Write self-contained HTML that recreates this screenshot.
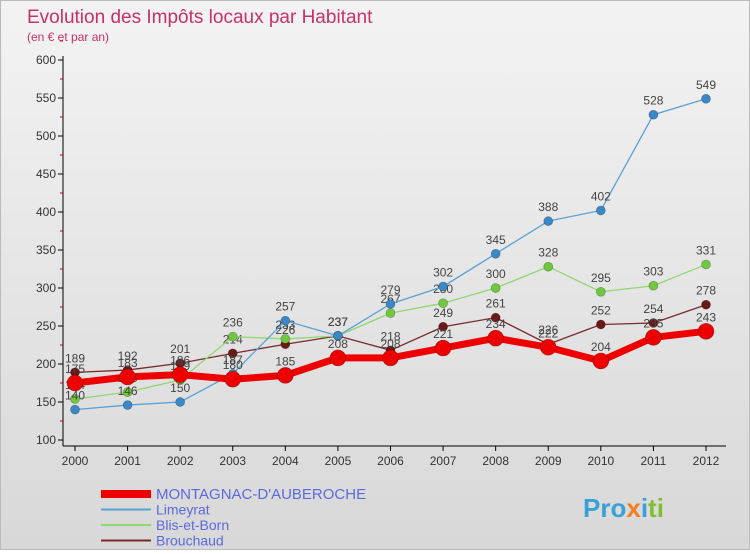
<!DOCTYPE html>
<html><head><meta charset="utf-8"><style>
body{margin:0;width:750px;height:550px;overflow:hidden;font-family:"Liberation Sans",sans-serif}
#wrap{position:relative;width:748px;height:548px;border:1px solid #bbb;background:linear-gradient(#f3f3f3,#d8d8d8)}
</style></head><body>
<div id="wrap">
<svg id="chart" width="748" height="548" xmlns="http://www.w3.org/2000/svg">
<text x="26" y="22" font-size="19" fill="#c8306a">Evolution des Impôts locaux par Habitant</text>
<text x="26" y="40" font-size="12" fill="#c8306a">(en € et par an)</text>
<g id="axes"></g><g id="series"></g>
<g id="legend"></g>
<text x="582" y="516" font-size="26" font-weight="bold"><tspan fill="#3aa0d8">Pro</tspan><tspan fill="#f08020">x</tspan><tspan fill="#3aa0d8">i</tspan><tspan fill="#80c030">ti</tspan></text>
</svg></div>
<script>
const years=[2000,2001,2002,2003,2004,2005,2006,2007,2008,2009,2010,2011,2012];
const yTicks=[100,150,200,250,300,350,400,450,500,550,600];
const montagnac=[175,183,186,180,185,208,208,221,234,222,204,235,243];
const limeyrat=[140,146,150,187,257,237,279,302,345,388,402,528,549];
const blis=[154,163,179,236,233,237,267,280,300,328,295,303,331];
const brouchaud=[189,192,201,214,226,237,218,249,261,226,252,254,278];
const names=["MONTAGNAC-D'AUBEROCHE","Limeyrat","Blis-et-Born","Brouchaud"];
const NS="http://www.w3.org/2000/svg";
const X=i=>74+i*(705-74)/(years.length-1);
const Y=v=>439-(v-100)*(439-59)/500;
function mk(p,t,a){const e=document.createElementNS(NS,t);for(const k in a)e.setAttribute(k,a[k]);p.appendChild(e);return e;}
const ax=document.getElementById('axes');
const yl=mk(ax,'line',{x1:62,y1:55,x2:62,y2:445,stroke:'#000'});


const xl=mk(ax,'line',{x1:62,y1:445,x2:725,y2:445,stroke:'#000'});


yTicks.forEach(v=>{mk(ax,'line',{x1:57,x2:62,y1:Y(v),y2:Y(v),stroke:'#000'});
mk(ax,'line',{x1:59,x2:62,y1:Y(v+25),y2:Y(v+25),stroke:'#d00'});
const t=mk(ax,'text',{x:55,y:Y(v)+4,'font-size':12,'text-anchor':'end',fill:'#333'});t.textContent=v;

});
years.forEach((y,i)=>{mk(ax,'line',{x1:X(i),x2:X(i),y1:445,y2:450,stroke:'#000'});
const t=mk(ax,'text',{x:X(i),y:464,'font-size':12,'text-anchor':'middle',fill:'#333'});t.textContent=y;

});
const sg=document.getElementById('series');
const defs=[[brouchaud,'#7a2a2a','#6a1818',1.3,4.5,'brouchaud'],[blis,'#90d870','#70c840',1.3,4.5,'blis-et-born'],[limeyrat,'#5aa0d8','#3a88c8',1.3,4.5,'limeyrat'],[montagnac,'#ee0000','#ee0000',7,8,'montagnac']];
defs.forEach(([d,lc,pc,w,r,n])=>{
const pl=mk(sg,'polyline',{points:d.map((v,i)=>X(i)+','+Y(v)).join(' '),fill:'none',stroke:lc,'stroke-width':w});


d.forEach((v,i)=>{const c=mk(sg,'circle',{cx:X(i),cy:Y(v),r:r,fill:pc,stroke:'rgba(0,0,0,0.3)','stroke-width':0.7});


const t=mk(sg,'text',{x:X(i),y:Y(v)-10,'font-size':12,'text-anchor':'middle',fill:'#444'});t.textContent=v;

});});
const lg=document.getElementById('legend');
const lstyles=[['#ee0000',8],['#5aa0d8',2],['#90d870',2],['#7a2a2a',2]];
names.forEach((nm,i)=>{const y=493+i*15.5;
const l=mk(lg,'line',{x1:100,x2:150,y1:y,y2:y,stroke:lstyles[i][0],'stroke-width':lstyles[i][1]});


const t=mk(lg,'text',{x:155,y:y+5,'font-size':i==0?15:14,fill:'#5a6ae0'});t.textContent=nm;

});
</script>
</body></html>
